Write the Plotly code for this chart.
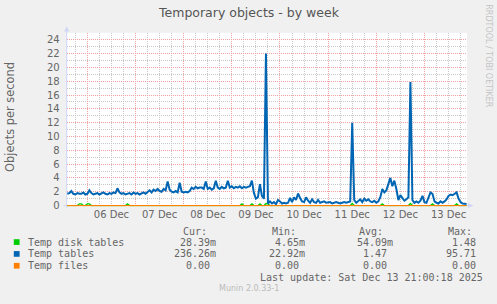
import plotly.graph_objects as go
import pandas as pd

# ---------------- data ----------------
start_time = "2025-12-05 14:00"
n_points = 200  # hourly samples

temp_tables = [
    1.7, 1.8, 2.1, 1.7, 1.6, 1.8, 1.7, 1.7, 1.9, 1.6,
    1.7, 2.2, 1.8, 1.6, 1.7, 1.8, 1.6, 1.7, 1.9, 1.7,
    1.6, 1.8, 1.7, 1.9, 1.8, 2.5, 1.9, 1.7, 1.8, 1.6,
    1.7, 1.8, 1.6, 1.9, 1.7, 1.8, 1.6, 1.7, 1.9, 1.7,
    2.0, 2.2, 1.9, 2.3, 2.1, 2.4, 2.1, 2.0, 2.4, 2.2,
    3.5, 2.3, 2.0, 1.9, 2.1, 1.9, 3.3, 2.0, 1.9, 2.0,
    1.9, 2.1, 2.6, 2.4, 2.7, 2.5, 2.6, 2.6, 2.4, 3.5,
    2.4, 2.6, 2.3, 2.5, 3.6, 2.6, 2.4, 2.7, 2.5, 2.6,
    3.6, 2.6, 2.8, 2.5, 2.7, 2.6, 2.8, 2.5, 2.7, 2.6,
    2.7, 2.8, 3.6, 1.8, 1.0, 1.2, 3.1, 1.4, 1.0, 22.0,
    0.3, 0.6, 0.3, 0.5, 0.2, 0.8, 0.6, 0.3, 0.4, 0.3,
    0.4, 1.1, 0.5, 1.2, 0.8, 1.75, 1.1, 0.6, 0.5, 1.2,
    0.7, 0.4, 0.9, 0.5, 0.4, 0.8, 0.4, 0.5, 0.6, 0.4,
    0.4, 0.5, 0.3, 0.4, 0.5, 0.4, 0.3, 0.4, 0.5, 0.4,
    0.5, 0.6, 12.0, 0.8, 0.4, 0.6, 0.9, 0.5, 1.0, 0.7,
    0.9, 0.6, 0.5, 0.7, 0.4, 0.6, 1.2, 2.4, 1.9, 2.2,
    3.2, 4.0, 2.8, 3.6, 2.4, 0.8, 1.5, 1.0, 0.7, 0.9,
    1.2, 17.9, 0.8, 0.4, 0.6, 0.4, 0.7, 1.4, 0.5, 0.4,
    1.1, 1.9, 1.7, 0.6, 0.4, 0.3, 0.6, 0.4, 0.6, 0.9,
    1.4, 1.6, 1.5, 1.7, 1.9, 1.0, 0.5, 0.3, 0.25, 0.24,
]

temp_disk_tables = [
    0, 0, 0, 0, 0, 0, 0.25, 0.25, 0, 0, 0.25, 0.25, 0, 0, 0, 0, 0, 0, 0, 0,
    0, 0, 0, 0, 0, 0, 0, 0, 0, 0, 0.25, 0, 0, 0, 0, 0, 0, 0, 0, 0,
    0, 0, 0, 0, 0, 0, 0, 0, 0, 0, 0, 0, 0, 0, 0, 0, 0, 0, 0, 0,
    0, 0, 0, 0, 0, 0, 0, 0, 0, 0, 0, 0, 0, 0, 0, 0, 0, 0, 0, 0,
    0, 0, 0, 0, 0, 0, 0, 0.25, 0, 0, 0, 0, 0.25, 0, 0, 0, 0.25, 0, 0, 0.3,
    0.25, 0, 0, 0, 0, 0, 0, 0, 0, 0, 0, 0, 0, 0, 0, 0, 0, 0, 0, 0,
    0, 0, 0, 0, 0, 0, 0, 0, 0, 0, 0, 0, 0, 0, 0, 0, 0, 0, 0, 0,
    0, 0, 0.3, 0, 0, 0, 0, 0, 0, 0, 0, 0, 0, 0, 0, 0, 0, 0.25, 0, 0,
    0, 0, 0, 0, 0, 0, 0, 0, 0, 0, 0, 0.3, 0, 0, 0, 0, 0, 0, 0, 0,
    0, 0, 0.25, 0, 0, 0, 0, 0, 0, 0, 0, 0, 0, 0, 0.25, 0, 0, 0, 0, 0,
]

temp_files = [0.0] * n_points

series_names = ["Temp disk tables", "Temp tables", "Temp files"]
series_colors = ["#00CC00", "#0066B3", "#FF8000"]
col_headers = ["Cur:", "Min:", "Avg:", "Max:"]
stats = [
    ["28.39m", "4.65m", "54.09m", "1.48"],
    ["236.26m", "22.92m", "1.47", "95.71"],
    ["0.00", "0.00", "0.00", "0.00"],
]
title_text = "Temporary objects - by week"
y_title = "Objects per second"
last_update = "Last update: Sat Dec 13 21:00:18 2025"
version_text = "Munin 2.0.33-1"
watermark = "RRDTOOL / TOBI OETIKER"
x_start, x_end = "2025-12-05 13:42", "2025-12-13 21:12"

# ---------------- figure ----------------
W, H = 497, 304
times = pd.date_range(start_time, periods=n_points, freq="h")

def px(x):
    return x / W

def py(y):
    return 1 - y / H

x_left, x_right = 66.7, 467.0
y_top_px, y_zero_px = 33.3, 208.3
unit_px = (y_zero_px - y_top_px) / 25.0
y_min = -0.15
y_bot_px = y_zero_px - y_min * unit_px

FONT = "DejaVu Sans"
MONO = "DejaVu Sans Mono"
FC = "#666666"
AXC = "#CFD6F8"

fig = go.Figure()
for name, vals, col in zip(series_names, [temp_disk_tables, temp_tables, temp_files], series_colors):
    fig.add_trace(go.Scatter(x=times, y=vals, mode="lines", name=name,
                             line=dict(color=col, width=2.0 if col == "#0066B3" else 1.3),
                             hoverinfo="skip"))

fig.update_layout(
    width=W, height=H, margin=dict(l=0, r=0, t=0, b=0),
    paper_bgcolor="#F0F0F0", plot_bgcolor="#FFFFFF", showlegend=False,
    xaxis=dict(
        domain=[px(x_left), px(x_right)], type="date", range=[x_start, x_end],
        tick0="2025-12-06", dtick=86400000, tickformat="%d %b", ticklabelmode="period",
        showgrid=True, gridcolor="#F0A0A0", griddash="1px,1px", gridwidth=1,
        minor=dict(dtick=6 * 3600000, showgrid=True, gridcolor="#C8C8C8", griddash="1px,1px", gridwidth=1),
        ticks="", showline=False, zeroline=False,
        tickfont=dict(family=FONT, size=10, color=FC), fixedrange=True,
    ),
    yaxis=dict(
        domain=[py(y_bot_px), py(y_top_px)], range=[y_min, 25],
        tick0=0, dtick=2,
        showgrid=True, gridcolor="#F0A0A0", griddash="1px,1px", gridwidth=1,
        minor=dict(dtick=1, showgrid=True, gridcolor="#C8C8C8", griddash="1px,1px", gridwidth=1),
        ticks="outside", ticklen=4, tickcolor="rgba(0,0,0,0)",
        showline=False, zeroline=False,
        tickfont=dict(family=FONT, size=10, color=FC), fixedrange=True,
    ),
)

shapes = []
shapes.append(dict(type="line", xref="paper", yref="paper", layer="below",
                   x0=px(x_left), x1=px(x_left), y0=py(211), y1=py(30),
                   line=dict(color=AXC, width=1)))
shapes.append(dict(type="path", xref="paper", yref="paper",
                   path=f"M {px(x_left-2.5)} {py(32)} L {px(x_left+2.5)} {py(32)} L {px(x_left)} {py(26.5)} Z",
                   fillcolor=AXC, line=dict(width=0)))
shapes.append(dict(type="line", xref="paper", yref="paper", layer="below",
                   x0=px(63.5), x1=px(469), y0=py(y_zero_px), y1=py(y_zero_px),
                   line=dict(color=AXC, width=1)))
shapes.append(dict(type="path", xref="paper", yref="paper",
                   path=f"M {px(468)} {py(y_zero_px-2.5)} L {px(468)} {py(y_zero_px+2.5)} L {px(473.5)} {py(y_zero_px)} Z",
                   fillcolor=AXC, line=dict(width=0)))

row_y = [245.3, 257.3, 269.3]
for ry, col in zip(row_y, series_colors):
    shapes.append(dict(type="rect", xref="paper", yref="paper",
                       x0=px(13.8), x1=px(19.6), y0=py(ry + 2.9), y1=py(ry - 2.9),
                       fillcolor=col, line=dict(width=0)))
fig.update_layout(shapes=shapes)

ann = []
def txt(x, y, s, size, family=FONT, color=FC, xanchor="left", angle=0):
    ann.append(dict(x=px(x), y=py(y), xref="paper", yref="paper", text=s, showarrow=False,
                    xanchor=xanchor, yanchor="middle", textangle=angle,
                    font=dict(family=family, size=size, color=color), borderpad=0))

txt(248.5, 12.5, title_text, 12.5, xanchor="center", color="#555555")
txt(10.5, 119, y_title, 11.4, xanchor="center", angle=-90)
txt(489, 56, watermark, 8, xanchor="center", angle=90, color="#C4C4C4")

header_x = [181.7, 270.7, 358.3, 446.7]
for hx, h in zip(header_x, col_headers):
    txt(hx, 234.3, h, 10, family=MONO)

col_right = [216.7, 306.0, 394.0, 483.0]
for ry, name, row in zip(row_y, series_names, stats):
    txt(26.7, ry, name, 10, family=MONO)
    for cr, v in zip(col_right, row):
        right = cr if v.endswith("m") else cr - 6.0
        txt(right, ry, v, 10, family=MONO, xanchor="right")

txt(483.5, 281.7, last_update, 10, family=MONO, xanchor="right")
txt(248.5, 292.7, version_text, 8, xanchor="center", color="#BBBBBB")
fig.update_layout(annotations=ann)

fig.write_html("out.html")
